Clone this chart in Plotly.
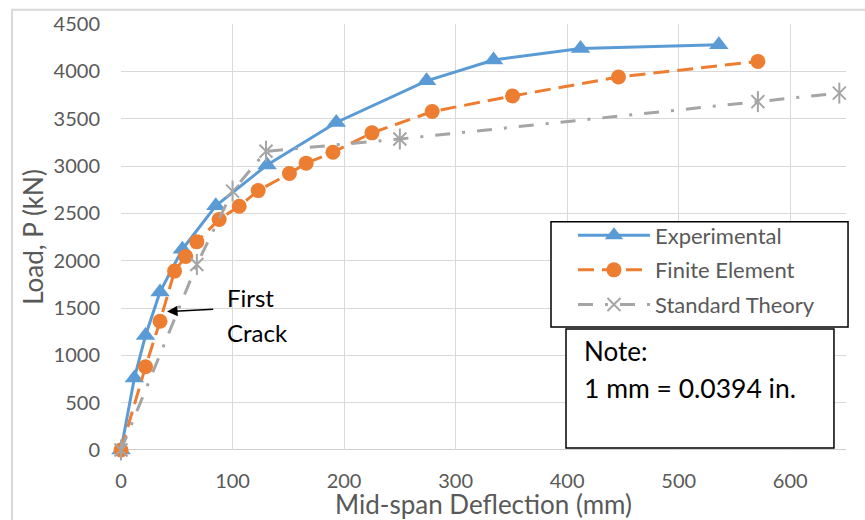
import plotly.graph_objects as go

# Mid-span deflection (mm) and load (kN) for each series
exp_defl = [0, 12, 22, 35, 55, 85, 131, 193, 274, 334, 412, 536]
exp_load = [0, 760, 1210, 1670, 2120, 2580, 3010, 3460, 3900, 4120, 4240, 4280]

fe_defl = [0, 22, 35, 48, 58, 68, 88, 106, 123, 151, 166, 190, 225, 279, 351, 446, 571]
fe_load = [0, 880, 1360, 1890, 2045, 2200, 2435, 2575, 2740, 2920, 3030, 3145, 3350, 3575, 3740, 3940, 4105]

st_defl = [0, 68, 100, 130, 250, 571, 644]
st_load = [0, 1960, 2735, 3155, 3285, 3680, 3770]

x_ticks = [0, 100, 200, 300, 400, 500, 600]
y_ticks = [0, 500, 1000, 1500, 2000, 2500, 3000, 3500, 4000, 4500]

BLUE = "#5b9bd5"
ORANGE = "#ed7d31"
GRAY = "#a5a5a5"
TXT = "#595959"
GRID = "#d9d9d9"
FONT = "Lato"

fig = go.Figure()

fig.add_trace(go.Scatter(
    x=exp_defl, y=exp_load, name="Experimental", mode="lines+markers",
    legendgroup="a",
    line=dict(color=BLUE, width=3),
    marker=dict(symbol="triangle-up", size=17, color=BLUE),
    cliponaxis=False,
))
fig.add_trace(go.Scatter(
    x=fe_defl, y=fe_load, name="Finite Element", mode="lines+markers",
    legendgroup="b",
    line=dict(color=ORANGE, width=3, dash="16px,8px"),
    marker=dict(symbol="circle", size=15, color=ORANGE),
    cliponaxis=False,
))
fig.add_trace(go.Scatter(
    x=st_defl, y=st_load, name="Standard Theory", mode="lines+markers",
    legendgroup="c",
    line=dict(color=GRAY, width=3, dash="15px,12px,3px,12px"),
    marker=dict(symbol="x-thin-open", size=13, color=GRAY, line=dict(color=GRAY, width=2)),
    cliponaxis=False,
))
# vertical stroke completing the six-spoke asterisk markers
fig.add_trace(go.Scatter(
    x=st_defl, y=st_load, mode="markers", showlegend=False,
    legendgroup="c", hoverinfo="skip",
    marker=dict(symbol="line-ns-open", size=15, color=GRAY, line=dict(color=GRAY, width=2)),
    cliponaxis=False,
))

axis_common = dict(
    showgrid=True, gridcolor=GRID, gridwidth=1.3,
    zeroline=False, showline=False, automargin=False,
    tickfont=dict(family=FONT, size=20, color=TXT),
)

fig.update_xaxes(
    range=[0, 650], tickvals=x_ticks, ticktext=[str(v) for v in x_ticks],
    title_text="Mid-span Deflection (mm)", title_standoff=6,
    title_font=dict(family=FONT, size=26, color=TXT),
    ticklabelstandoff=17,
    **axis_common,
)
fig.update_yaxes(
    range=[0, 4500], tickvals=y_ticks, ticktext=[str(v) for v in y_ticks],
    title_text="Load, P (kN)", title_standoff=2,
    title_font=dict(family=FONT, size=26, color=TXT),
    ticklabelstandoff=20,
    **axis_common,
)

shapes = [
    # horizontal axis line
    dict(type="line", xref="paper", yref="y", x0=0, x1=1, y0=0, y1=0,
         line=dict(color="#bfbfbf", width=1.5), layer="below"),
    # chart frame
    dict(type="rect", xref="paper", yref="paper",
         x0=-0.1503, x1=1.05, y0=-0.20, y1=1.0336,
         line=dict(color=GRID, width=2), fillcolor="rgba(0,0,0,0)"),
    # legend frame
    dict(type="rect", xref="paper", yref="paper",
         x0=0.5931, x1=1.0028, y0=0.2889, y1=0.5356,
         line=dict(color="black", width=1.5), fillcolor="white", layer="above"),
    # note box
    dict(type="rect", xref="paper", yref="paper",
         x0=0.6138, x1=0.9834, y0=0.0047, y1=0.2842,
         line=dict(color="black", width=1.5), fillcolor="white", layer="above"),
]

annotations = [
    # first crack pointer
    dict(x=41.3, y=1462, ax=84, ay=1487, xref="x", yref="y", axref="x", ayref="y",
         text="", showarrow=True, arrowhead=2, arrowsize=1.4, arrowwidth=1.5,
         arrowcolor="black"),
    dict(x=93.5, y=1607, xref="x", yref="y", text="First", showarrow=False,
         xanchor="left", yanchor="middle", font=dict(family=FONT, size=24, color="black")),
    dict(x=93.5, y=1237, xref="x", yref="y", text="Crack", showarrow=False,
         xanchor="left", yanchor="middle", font=dict(family=FONT, size=24, color="black")),
    # note text
    dict(x=0.636, y=0.2317, xref="paper", yref="paper", text="Note:", showarrow=False,
         xanchor="left", yanchor="middle", font=dict(family=FONT, size=26, color="black")),
    dict(x=0.636, y=0.1457, xref="paper", yref="paper", text="1 mm = 0.0394 in.",
         showarrow=False, xanchor="left", yanchor="middle",
         font=dict(family=FONT, size=26.5, color="black")),
]

fig.update_layout(
    width=865, height=520,
    margin=dict(l=121, r=19, t=24, b=70),
    paper_bgcolor="white", plot_bgcolor="white",
    font=dict(family=FONT, color=TXT),
    showlegend=True,
    legend=dict(
        x=0.6234, y=0.553, xanchor="left", yanchor="top",
        bgcolor="rgba(0,0,0,0)", borderwidth=0,
        font=dict(family=FONT, size=22, color=TXT),
        itemwidth=72, tracegroupgap=3,
    ),
    shapes=shapes,
    annotations=annotations,
)

fig.write_html("out.html")
